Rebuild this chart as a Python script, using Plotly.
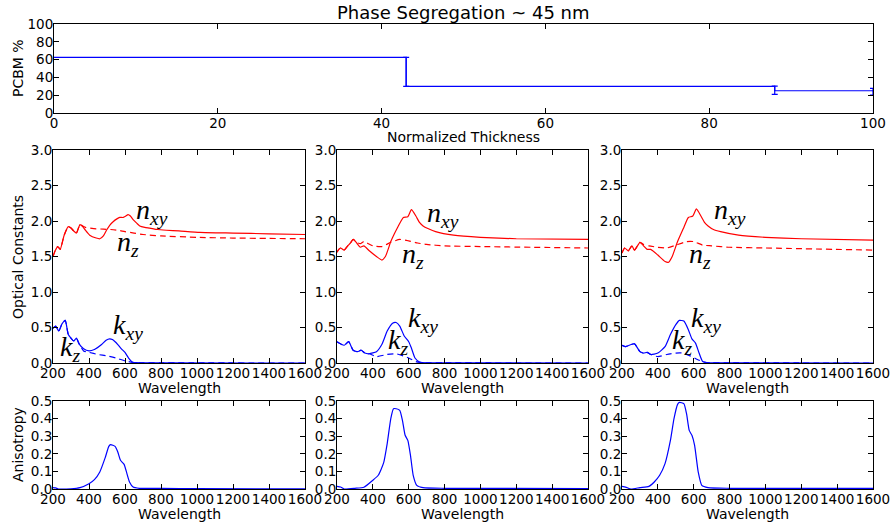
import plotly.graph_objects as go

W, H = 894, 527

# ---------------- data ----------------
thick_x = [0, 43, 43, 88, 88, 100]
pcbm_y = [62.5, 62.5, 30, 30, 25, 25]
err_x = [43, 88, 100]
err_y = [62.5, 30.3, 25]
err_plus = [0, 0, 2.7]
err_minus = [32.5, 9.3, 4.8]

# Panel 1
p1_n_wl = [200, 212, 226, 240, 262, 285, 300, 315, 330, 350, 365, 380, 404, 440, 460, 480, 497, 515, 534, 555, 571, 590, 605, 617, 630, 645, 665, 682, 710, 738, 780, 830, 900, 1016, 1201, 1400, 1600]
p1_nxy = [1.50, 1.58, 1.64, 1.60, 1.80, 1.92, 1.90, 1.86, 1.83, 1.95, 1.92, 1.87, 1.80, 1.76, 1.75, 1.79, 1.87, 1.94, 1.99, 2.03, 2.05, 2.05, 2.07, 2.09, 2.07, 2.02, 1.97, 1.93, 1.91, 1.90, 1.88, 1.87, 1.86, 1.84, 1.83, 1.82, 1.81]
p1_nz_wl = [200, 212, 226, 240, 262, 285, 300, 315, 330, 350, 365, 380, 404, 440, 480, 520, 560, 600, 650, 700, 800, 1000, 1200, 1600]
p1_nz = [1.50, 1.58, 1.64, 1.60, 1.80, 1.92, 1.90, 1.86, 1.83, 1.95, 1.93, 1.91, 1.90, 1.89, 1.885, 1.88, 1.87, 1.85, 1.83, 1.81, 1.79, 1.77, 1.76, 1.75]
p1_k_wl = [200, 215, 232, 250, 268, 285, 300, 315, 330, 345, 370, 400, 430, 470, 495, 515, 530, 545, 560, 580, 600, 620, 640, 660, 700, 800, 1600]
p1_kxy = [0.49, 0.52, 0.45, 0.55, 0.60, 0.40, 0.35, 0.31, 0.35, 0.27, 0.20, 0.17, 0.19, 0.26, 0.32, 0.34, 0.33, 0.30, 0.26, 0.20, 0.15, 0.07, 0.015, 0.004, 0.002, 0.001, 0.0]
p1_kz_wl = [200, 215, 232, 250, 268, 285, 300, 315, 330, 345, 370, 400, 450, 500, 550, 600, 640, 680, 800, 1600]
p1_kz = [0.49, 0.52, 0.45, 0.55, 0.60, 0.40, 0.35, 0.31, 0.35, 0.27, 0.17, 0.15, 0.12, 0.10, 0.07, 0.03, 0.01, 0.002, 0.001, 0.0]

# Panel 2
p2_n_wl = [200, 210, 220, 240, 260, 275, 290, 310, 330, 350, 380, 420, 450, 470, 500, 520, 540, 555, 570, 595, 615, 640, 660, 680, 710, 750, 850, 1000, 1200, 1600]
p2_nxy = [1.56, 1.60, 1.62, 1.59, 1.65, 1.69, 1.74, 1.69, 1.63, 1.65, 1.58, 1.50, 1.45, 1.50, 1.71, 1.82, 1.92, 1.99, 2.05, 2.06, 2.16, 2.07, 1.98, 1.93, 1.89, 1.85, 1.80, 1.77, 1.75, 1.74]
p2_nz_wl = [200, 210, 220, 240, 260, 275, 290, 310, 330, 350, 400, 450, 500, 550, 600, 650, 700, 800, 1000, 1600]
p2_nz = [1.56, 1.60, 1.62, 1.59, 1.65, 1.69, 1.74, 1.70, 1.68, 1.71, 1.65, 1.64, 1.70, 1.74, 1.72, 1.69, 1.67, 1.65, 1.64, 1.62]
p2_k_wl = [200, 220, 240, 265, 290, 315, 335, 355, 380, 420, 450, 480, 510, 530, 550, 575, 600, 615, 635, 660, 700, 800, 1600]
p2_kxy = [0.30, 0.27, 0.25, 0.30, 0.18, 0.16, 0.18, 0.14, 0.13, 0.16, 0.26, 0.45, 0.56, 0.57, 0.52, 0.38, 0.30, 0.21, 0.07, 0.015, 0.003, 0.001, 0.0]
p2_kz_wl = [200, 220, 240, 265, 290, 315, 335, 355, 380, 420, 480, 530, 570, 600, 640, 680, 800, 1600]
p2_kz = [0.30, 0.27, 0.25, 0.30, 0.18, 0.16, 0.18, 0.14, 0.13, 0.09, 0.12, 0.13, 0.10, 0.07, 0.02, 0.003, 0.001, 0.0]

# Panel 3
p3_n_wl = [200, 215, 235, 255, 270, 300, 320, 340, 360, 400, 440, 460, 480, 510, 545, 570, 595, 615, 640, 660, 680, 710, 750, 850, 1000, 1200, 1600]
p3_nxy = [1.55, 1.62, 1.58, 1.65, 1.59, 1.70, 1.65, 1.60, 1.60, 1.52, 1.43, 1.42, 1.50, 1.71, 1.91, 2.05, 2.07, 2.17, 2.07, 1.98, 1.93, 1.88, 1.85, 1.80, 1.77, 1.75, 1.73]
p3_nz_wl = [200, 215, 235, 255, 270, 300, 320, 350, 400, 450, 500, 560, 600, 650, 700, 800, 1000, 1600]
p3_nz = [1.55, 1.62, 1.58, 1.65, 1.59, 1.70, 1.67, 1.65, 1.63, 1.62, 1.66, 1.71, 1.71, 1.66, 1.65, 1.63, 1.62, 1.59]
p3_k_wl = [200, 220, 240, 270, 300, 320, 340, 360, 400, 440, 470, 500, 520, 545, 570, 590, 610, 630, 650, 680, 800, 1600]
p3_kxy = [0.25, 0.23, 0.25, 0.27, 0.16, 0.14, 0.15, 0.12, 0.14, 0.23, 0.40, 0.54, 0.60, 0.59, 0.47, 0.34, 0.28, 0.14, 0.02, 0.003, 0.001, 0.0]
p3_kz_wl = [200, 220, 240, 270, 300, 320, 340, 360, 400, 450, 500, 540, 580, 620, 660, 700, 800, 1600]
p3_kz = [0.25, 0.23, 0.25, 0.27, 0.16, 0.14, 0.15, 0.12, 0.09, 0.12, 0.14, 0.14, 0.10, 0.05, 0.01, 0.002, 0.001, 0.0]

# Anisotropy
a1_wl = [200, 215, 230, 260, 300, 350, 400, 430, 460, 490, 510, 520, 545, 560, 575, 595, 610, 625, 645, 680, 800, 1000, 1600]
a1 = [0.008, 0.006, 0.0, 0.0, 0.001, 0.008, 0.03, 0.053, 0.097, 0.178, 0.242, 0.252, 0.242, 0.21, 0.163, 0.14, 0.09, 0.04, 0.011, 0.004, 0.003, 0.002, 0.001]
a2_wl = [200, 220, 240, 300, 350, 400, 430, 460, 480, 500, 515, 530, 550, 565, 580, 595, 610, 625, 645, 680, 800, 1600]
a2 = [0.015, 0.011, 0.0, 0.004, 0.01, 0.05, 0.078, 0.148, 0.258, 0.40, 0.456, 0.456, 0.447, 0.39, 0.305, 0.276, 0.19, 0.078, 0.021, 0.008, 0.004, 0.002]
a3_wl = [200, 220, 250, 300, 350, 380, 410, 440, 470, 490, 510, 520, 545, 560, 575, 590, 605, 625, 645, 680, 800, 1600]
a3 = [0.015, 0.011, 0.0, 0.008, 0.015, 0.04, 0.078, 0.144, 0.276, 0.40, 0.481, 0.492, 0.485, 0.428, 0.333, 0.305, 0.248, 0.097, 0.021, 0.008, 0.004, 0.003]

# label positions (data coords) per panel: nxy, nz, kxy, kz
label_pos = [
    [(750, 2.13), (617, 1.69), (617, 0.52), (293, 0.21)],
    [(791, 2.09), (624, 1.52), (680, 0.61), (540, 0.30)],
    [(803, 2.13), (637, 1.52), (669, 0.61), (535, 0.30)],
]
label_text = ["<i>n</i><sub><i>xy</i></sub>", "<i>n</i><sub><i>z</i></sub>",
              "<i>k</i><sub><i>xy</i></sub>", "<i>k</i><sub><i>z</i></sub>"]

RED = "#ff0000"
BLUE = "#0000ff"
FONT = "DejaVu Sans"


def px(x):
    return x / W


def py(y):
    return 1 - y / H


fig = go.Figure()

# Top panel
fig.add_trace(go.Scatter(x=thick_x, y=pcbm_y, mode="lines", line=dict(color=BLUE, width=1.2),
                         xaxis="x", yaxis="y", showlegend=False))
fig.add_trace(go.Scatter(x=err_x, y=err_y, mode="markers", marker=dict(size=1, color=BLUE),
                         error_y=dict(type="data", symmetric=False, array=err_plus, arrayminus=err_minus,
                                      color=BLUE, thickness=1.2, width=3),
                         xaxis="x", yaxis="y", showlegend=False))

panels = [
    (p1_n_wl, p1_nxy, p1_nz_wl, p1_nz, p1_k_wl, p1_kxy, p1_kz_wl, p1_kz, a1_wl, a1),
    (p2_n_wl, p2_nxy, p2_nz_wl, p2_nz, p2_k_wl, p2_kxy, p2_kz_wl, p2_kz, a2_wl, a2),
    (p3_n_wl, p3_nxy, p3_nz_wl, p3_nz, p3_k_wl, p3_kxy, p3_kz_wl, p3_kz, a3_wl, a3),
]

for i, (nwl, nxy, nzwl, nz, kwl, kxy, kzwl, kz, awl, an) in enumerate(panels):
    xa = f"x{i + 2}"
    ya = f"y{i + 2}"
    xb = f"x{i + 5}"
    yb = f"y{i + 5}"
    ln = dict(width=1.2, shape="spline", smoothing=0.5)
    fig.add_trace(go.Scatter(x=nzwl, y=nz, mode="lines", line=dict(color=RED, dash="6px,4px", **ln),
                             xaxis=xa, yaxis=ya, showlegend=False))
    fig.add_trace(go.Scatter(x=nwl, y=nxy, mode="lines", line=dict(color=RED, **ln),
                             xaxis=xa, yaxis=ya, showlegend=False))
    fig.add_trace(go.Scatter(x=kzwl, y=kz, mode="lines", line=dict(color=BLUE, dash="6px,4px", **ln),
                             xaxis=xa, yaxis=ya, showlegend=False))
    fig.add_trace(go.Scatter(x=kwl, y=kxy, mode="lines", line=dict(color=BLUE, **ln),
                             xaxis=xa, yaxis=ya, showlegend=False))
    fig.add_trace(go.Scatter(x=awl, y=an, mode="lines", line=dict(color=BLUE, **ln),
                             xaxis=xb, yaxis=yb, showlegend=False))
    for (lx, ly), txt in zip(label_pos[i], label_text):
        fig.add_annotation(x=lx, y=ly, xref=xa, yref=ya, text=txt, showarrow=False,
                           font=dict(family="Liberation Serif", size=28, color="black"),
                           xanchor="center", yanchor="middle")

axis_common = dict(showline=True, linecolor="black", linewidth=1, mirror="allticks",
                   ticks="inside", ticklen=5, tickcolor="black", tickwidth=1,
                   showgrid=False, zeroline=False, tickangle=0, automargin=False,
                   tickfont=dict(family=FONT, size=13.5, color="black"))
xcommon = dict(ticklabelstandoff=-2, **axis_common)
ycommon = dict(ticklabelstandoff=-3, **axis_common)

mid_x = [(53, 305), (337, 588), (622, 873)]
layout = dict(width=W, height=H, margin=dict(l=0, r=0, t=0, b=0, pad=0), template="none",
              paper_bgcolor="white", plot_bgcolor="white", showlegend=False)

layout["xaxis"] = dict(domain=[px(54), px(873)], range=[0, 100], tickvals=[0, 20, 40, 60, 80, 100],
                       anchor="y", **xcommon)
layout["yaxis"] = dict(domain=[py(113), py(24)], range=[0, 100], tickvals=[0, 20, 40, 60, 80, 100],
                       anchor="x", **ycommon)
for i, (l, r) in enumerate(mid_x):
    layout[f"xaxis{i + 2}"] = dict(domain=[px(l), px(r)], range=[200, 1600],
                                   tickvals=list(range(200, 1601, 200)), anchor=f"y{i + 2}", **xcommon)
    layout[f"yaxis{i + 2}"] = dict(domain=[py(363), py(150)], range=[0, 3],
                                   tickvals=[0, 0.5, 1.0, 1.5, 2.0, 2.5, 3.0], tickformat=".1f",
                                   anchor=f"x{i + 2}", **ycommon)
    layout[f"xaxis{i + 5}"] = dict(domain=[px(l), px(r)], range=[200, 1600],
                                   tickvals=list(range(200, 1601, 200)), anchor=f"y{i + 5}", **xcommon)
    layout[f"yaxis{i + 5}"] = dict(domain=[py(489), py(401)], range=[0, 0.5],
                                   tickvals=[0, 0.1, 0.2, 0.3, 0.4, 0.5], tickformat=".1f",
                                   anchor=f"x{i + 5}", **ycommon)

fig.update_layout(**layout)


def text_ann(x, y, text, size=14, angle=0):
    fig.add_annotation(x=px(x), y=py(y), xref="paper", yref="paper", text=text, showarrow=False,
                       textangle=angle, xanchor="center", yanchor="middle",
                       font=dict(family=FONT, size=size, color="black"))


text_ann(463, 13, "Phase Segregation ~ 45 nm", size=18)
text_ann(18, 68, "PCBM %", angle=-90)
text_ann(463, 137, "Normalized Thickness")
text_ann(18, 257, "Optical Constants", angle=-90)
text_ann(18, 445, "Anisotropy", angle=-90)
for l, r in mid_x:
    text_ann((l + r) / 2, 388, "Wavelength")
    text_ann((l + r) / 2, 514, "Wavelength")

fig.write_html("out.html")
